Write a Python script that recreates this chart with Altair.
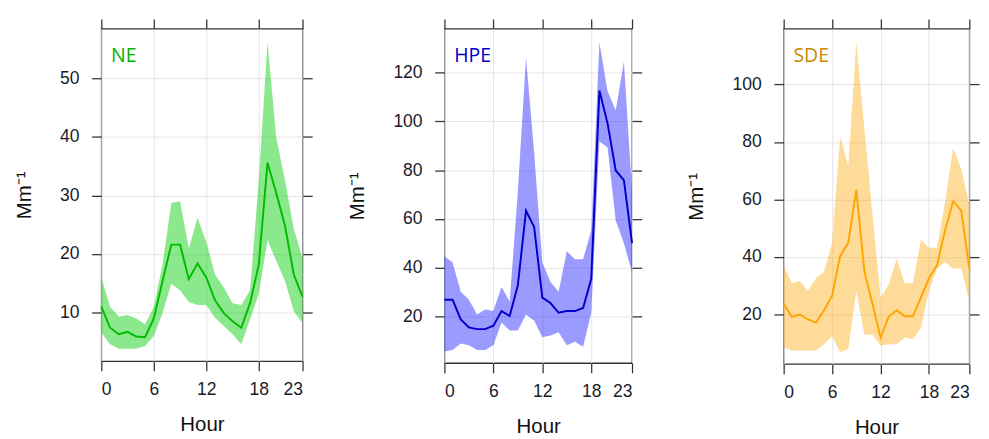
import altair as alt
import pandas as pd

hours = list(range(24))
x_ticks = [0, 6, 12, 18, 23]

# NE
ne_mean = [11.0, 7.4, 6.3, 6.7, 5.9, 5.8, 9.0, 15.4, 21.6, 21.6, 15.7, 18.4,
           16.0, 12.1, 9.9, 8.5, 7.4, 11.6, 18.2, 35.6, 30.4, 24.8, 16.5, 12.7]
ne_upper = [16.0, 11.0, 9.3, 9.6, 9.0, 8.0, 11.0, 18.2, 28.7, 29.0, 21.0, 26.2,
            22.1, 16.5, 14.3, 11.6, 11.3, 13.8, 32.6, 56.2, 39.8, 32.6, 24.3, 19.3]
ne_lower = [6.6, 4.6, 3.8, 3.8, 3.8, 4.3, 6.0, 9.9, 14.9, 13.8, 11.8, 11.3,
            11.3, 9.1, 7.7, 6.3, 4.6, 8.8, 13.2, 22.4, 18.8, 15.4, 10.2, 8.2]
ne_yticks = [10, 20, 30, 40, 50]

# HPE
hpe_mean = [26.9, 26.9, 18.9, 15.6, 14.9, 14.9, 16.3, 22.3, 20.3, 32.9, 63.4, 56.7,
            27.8, 25.6, 21.6, 22.3, 22.3, 23.6, 35.5, 112.7, 99.2, 79.9, 75.9, 50.1]
hpe_upper = [44.8, 42.2, 30.2, 26.9, 20.9, 22.9, 22.3, 32.2, 26.2, 71.3, 126.3, 87.2,
             42.2, 34.2, 30.2, 46.8, 43.5, 43.5, 55.4, 132.3, 112.4, 104.5, 124.4, 71.3]
hpe_lower = [5.7, 6.3, 9.0, 8.3, 6.3, 6.3, 8.3, 17.6, 14.3, 14.3, 20.9, 18.3,
             11.6, 12.3, 13.6, 8.3, 9.7, 7.7, 21.6, 91.9, 89.3, 59.4, 50.1, 38.2]
hpe_yticks = [20, 40, 60, 80, 100, 120]

# SDE
sde_mean = [23.7, 19.2, 20.1, 18.3, 17.2, 21.5, 26.5, 40.4, 44.9, 63.4, 34.9, 23.7,
            12.0, 19.2, 21.5, 19.4, 19.4, 25.9, 32.6, 37.1, 49.4, 59.4, 56.1, 36.0]
sde_upper = [37.1, 30.9, 31.7, 28.2, 32.6, 34.9, 44.9, 81.8, 71.7, 114.7, 84.6, 55.0,
             25.9, 30.4, 39.3, 30.9, 30.9, 46.0, 43.2, 43.2, 59.4, 77.9, 70.6, 58.3]
sde_lower = [8.6, 7.5, 7.5, 7.5, 7.5, 9.7, 12.5, 6.9, 8.0, 28.2, 13.1, 13.1,
             9.2, 9.7, 9.7, 12.0, 11.4, 15.3, 28.2, 36.0, 38.2, 36.0, 36.0, 24.8]
sde_yticks = [20, 40, 60, 80, 100]

FONT = "Liberation Sans"


def panel(mean, lower, upper, yticks, ydom, line_color, band_color, label,
          label_color, w, h):
    df = pd.DataFrame({"hour": hours, "mean": mean, "lower": lower, "upper": upper})
    base = alt.Chart(df)
    xs = alt.Scale(domain=[0, 23], nice=False, zero=False)
    ys = alt.Scale(domain=ydom, nice=False, zero=False)

    band = base.mark_area(color=band_color, opacity=0.45).encode(
        x=alt.X("hour:Q", scale=xs,
                axis=alt.Axis(orient="bottom", values=x_ticks, title="Hour",
                              grid=True)),
        y=alt.Y("lower:Q", scale=ys,
                axis=alt.Axis(orient="left", values=yticks, title="Mm⁻¹",
                              grid=True)),
        y2="upper:Q",
    )
    line = base.mark_line(color=line_color, strokeWidth=2).encode(
        x=alt.X("hour:Q", scale=xs, axis=None),
        y=alt.Y("mean:Q", scale=ys, axis=None),
    )
    ghost = base.mark_point(opacity=0).encode(
        x=alt.X("hour:Q", scale=xs,
                axis=alt.Axis(orient="top", values=x_ticks, labels=False,
                              title=None, grid=False)),
        y=alt.Y("mean:Q", scale=ys,
                axis=alt.Axis(orient="right", values=yticks, labels=False,
                              title=None, grid=False)),
    )
    txt = alt.Chart(pd.DataFrame({"t": [label]})).mark_text(
        align="left", baseline="middle", font="Open Sans", fontSize=20,
        color=label_color
    ).encode(text="t:N", x=alt.value(10), y=alt.value(28))

    return alt.layer(band, line, ghost, txt).resolve_axis(
        x="independent", y="independent"
    ).properties(width=w, height=h)


p1 = panel(ne_mean, ne_lower, ne_upper, ne_yticks, [1.7, 58.5],
           "#00bb00", "#00cc00", "NE", "#00b400", 207, 342)
p2 = panel(hpe_mean, hpe_lower, hpe_upper, hpe_yticks, [1.0, 138.0],
           "#0000c8", "#2222ff", "HPE", "#0000cc", 193, 344)
p3 = panel(sde_mean, sde_lower, sde_upper, sde_yticks, [2.8, 119.4],
           "#ffa500", "#ffb020", "SDE", "#cc8800", 191, 345)

chart = alt.hconcat(alt.hconcat(p1, p2, spacing=33), p3, spacing=43).properties(
    padding={"left": 5, "top": 3, "right": 0, "bottom": 0}
).configure_view(
    stroke="#333333", strokeWidth=1.3
).configure_axis(
    domain=False,
    gridColor="#e4e4e4",
    gridWidth=1,
    tickColor="#333333",
    tickWidth=1.3,
    tickSize=10,
    labelFont=FONT,
    labelFontSize=18,
    labelColor="#1a1a2a",
    titleFont=FONT,
    titleFontSize=21,
    titleFontWeight="normal",
    titleColor="#111111",
).configure_axisX(
    labelPadding=10,
    titlePadding=16
).configure_axisY(
    labelPadding=13,
    titlePadding=26
)

chart.save("out.html", embed_options={"renderer": "svg", "actions": False})
